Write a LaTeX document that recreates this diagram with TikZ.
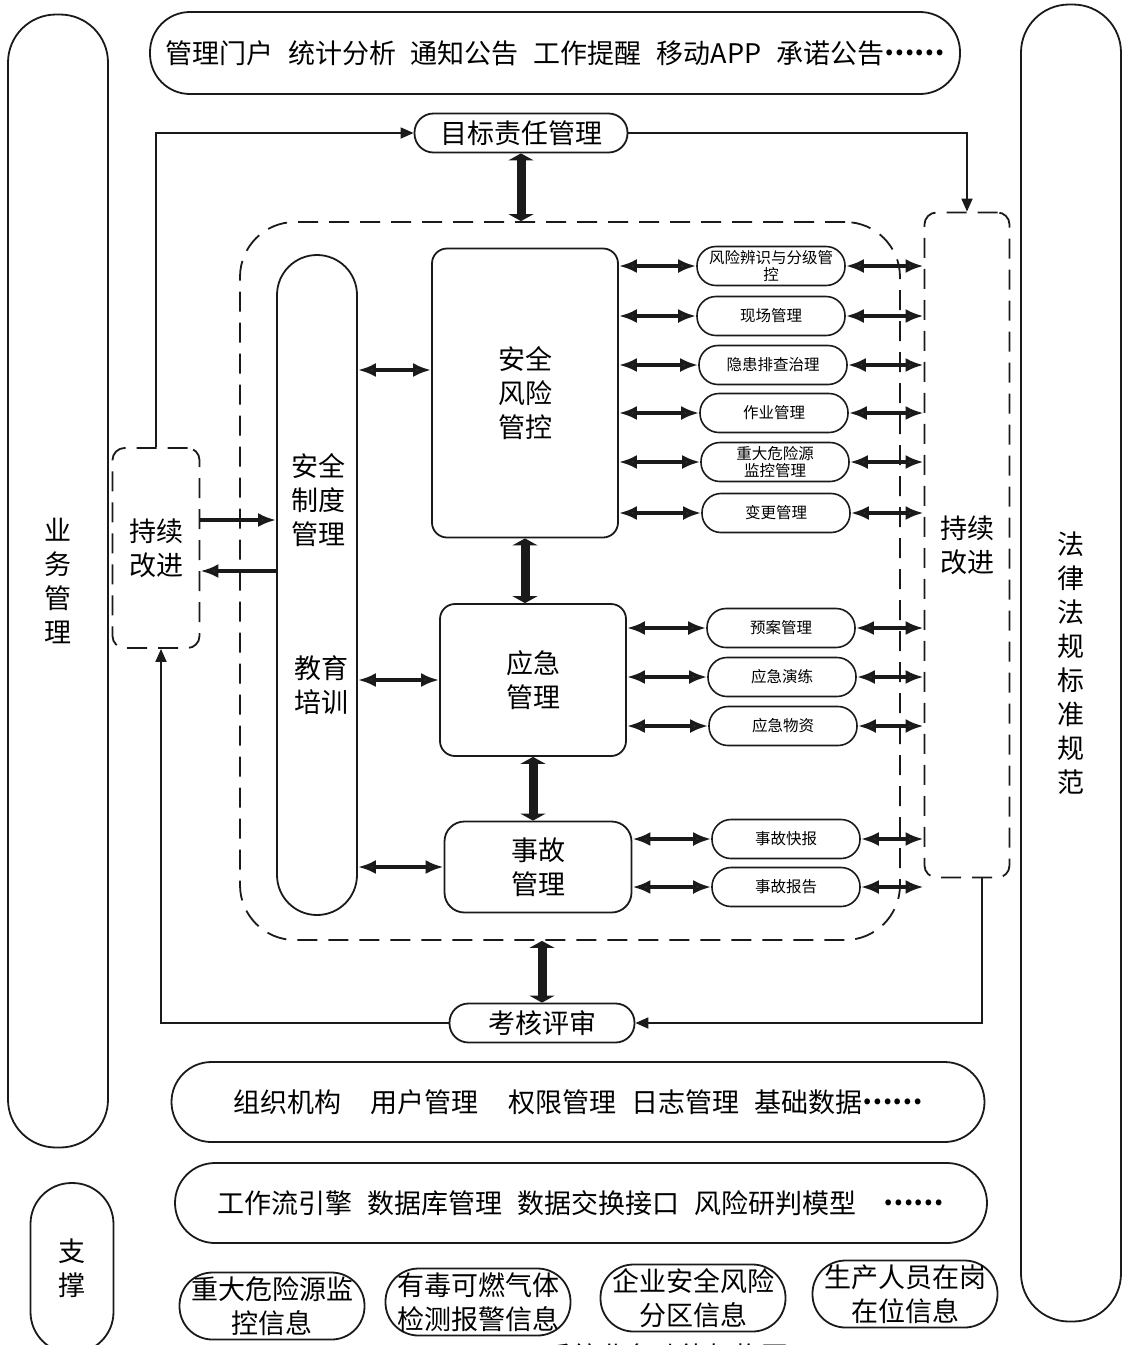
\documentclass[tikz,border=0pt]{standalone}
\usepackage{fontspec}
\setmainfont{Noto Sans CJK SC}
\usetikzlibrary{arrows.meta,positioning}
\definecolor{ARCHInk}{HTML}{1A1A1A}
\definecolor{ARCHTip}{HTML}{3A3A3A}
\newcommand{\archbig}{\fontsize{27}{34}\selectfont}
\newcommand{\archsmall}{\fontsize{15.5}{17.5}\selectfont}
\newcommand{\archgap}{\hspace{0.55em}}
\newcommand{\archdots}{\raisebox{0.3em}{\textbf{……}}}
\tikzset{
  archbar/.style={
    draw=ARCHInk,
    line width=1.8pt,
    rounded corners=40pt,
    inner sep=0pt,
    align=center,
    font=\archbig
  },
  archcore/.style={
    draw=ARCHInk,
    line width=1.8pt,
    rounded corners=15pt,
    inner sep=0pt,
    align=center,
    font=\archbig
  },
  archtag/.style={
    draw=ARCHInk,
    line width=1.8pt,
    rounded corners=19pt,
    inner sep=0pt,
    minimum height=39pt,
    font=\archbig
  },
  archpill/.style={
    draw=ARCHInk,
    line width=1.6pt,
    rounded corners=19pt,
    inner sep=0pt,
    minimum width=148pt,
    minimum height=39pt,
    align=center,
    font=\archsmall
  },
  archdata/.style={
    draw=ARCHInk,
    line width=1.8pt,
    rounded corners=33pt,
    inner sep=0pt,
    minimum width=185pt,
    minimum height=67pt,
    align=center,
    font=\archbig
  },
  archdash/.style={draw=ARCHInk,line width=1.8pt,dash pattern=on 20pt off 11pt},
  archdbl/.style={{Latex[length=18pt,width=14pt,fill=ARCHTip]}-{Latex[length=18pt,width=14pt,fill=ARCHTip]},draw=ARCHInk,line width=3.5pt},
  archthick/.style={-{Latex[length=18pt,width=14pt,fill=ARCHTip]},draw=ARCHInk,line width=3.5pt},
  archfat/.style={{Triangle[length=7pt,width=25pt]}-{Triangle[length=7pt,width=25pt]},draw=ARCHInk,line width=9pt},
  archflow/.style={-{Triangle[length=13pt,width=11pt]},draw=ARCHInk,line width=1.8pt}
}

\begin{document}
\begin{tikzpicture}[x=1pt,y=-1pt]
  \useasboundingbox (0,0) rectangle (1126,1345);
  % side columns
  \node[archbar,minimum width=100pt,minimum height=1133pt,rounded corners=48pt] (biz) at (58,581) {业\\务\\管\\理};
  \node[archbar,minimum width=100pt,minimum height=1317pt,rounded corners=48pt] (law) at (1071,663) {法\\律\\法\\规\\标\\准\\规\\范};
  \node[archbar,minimum width=83pt,minimum height=170pt,rounded corners=41pt] (support) at (72,1268) {支\\撑};
  % top and bottom layers
  \node[archbar,minimum width=810pt,minimum height=82pt] (portal) at (555,53)
    {管理门户\archgap 统计分析\archgap 通知公告\archgap 工作提醒\archgap 移动APP\archgap 承诺公告\archdots};
  \node[archbar,minimum width=813pt,minimum height=80pt] (base) at (578,1102)
    {组织机构\hspace{1.1em}用户管理\hspace{1.1em}权限管理\archgap 日志管理\archgap 基础数据\archdots};
  \node[archbar,minimum width=812pt,minimum height=80pt] (engine) at (581,1203)
    {工作流引擎\archgap 数据库管理\archgap 数据交换接口\archgap 风险研判模型\hspace{1em}\archdots};
  \node[archdata] (hazsrc) at (272,1306) {重大危险源监\\控信息};
  \node[archdata] (gas) at (478,1302) {有毒可燃气体\\检测报警信息};
  \node[archdata] (zone) at (693,1298) {企业安全风险\\分区信息};
  \node[archdata] (staff) at (905,1294) {生产人员在岗\\在位信息};
  \node[font=\archbig] (caption) at (667,1356) {系统业务功能架构图};
  % loop
  \node[archtag,minimum width=213pt] (goal) at (521,133) {目标责任管理};
  \node[archtag,minimum width=185pt] (review) at (542,1023) {考核评审};
  \node[archdash,rounded corners=55pt,minimum width=660pt,minimum height=718pt] (core) at (570,581) {};
  \node[archdash,rounded corners=12pt,minimum width=87pt,minimum height=200pt,align=center,font=\archbig] (ciL) at (156,548) {持续\\改进};
  \node[archdash,rounded corners=12pt,minimum width=85pt,minimum height=665pt,align=center,font=\archbig] (ciR) at (967,545) {持续\\改进};
  % core
  \node[archbar,minimum width=80pt,minimum height=660pt] (rules) at (317,585) {};
  \node[align=center,font=\archbig] (ruletxt) at (318,500) {安全\\制度\\管理};
  \node[align=center,font=\archbig] (edutxt) at (321,685) {教育\\培训};
  \node[archcore,minimum width=186pt,minimum height=289pt] (risk) at (525,393) {安全\\风险\\管控};
  \node[archcore,minimum width=186pt,minimum height=152pt] (emerg) at (533,680) {应急\\管理};
  \node[archcore,rounded corners=20pt,minimum width=187pt,minimum height=91pt] (acc) at (538,867) {事故\\管理};
  \node[archpill] (idrisk) at (771,266) {风险辨识与分级管\\控};
  \node[archpill] (site) at (771,316) {现场管理};
  \node[archpill] (hazard) at (773,365) {隐患排查治理};
  \node[archpill] (work) at (774,413) {作业管理};
  \node[archpill] (major) at (775,462) {重大危险源\\监控管理};
  \node[archpill] (change) at (776,513) {变更管理};
  \node[archpill] (plan) at (781,628) {预案管理};
  \node[archpill] (drill) at (782,677) {应急演练};
  \node[archpill] (supply) at (783,726) {应急物资};
  \node[archpill] (flash) at (786,839) {事故快报};
  \node[archpill] (report) at (786,887) {事故报告};
  \coordinate (riskin) at ([yshift=23pt]risk.west);
  \coordinate (ciout) at ([yshift=28pt]ciL.east);
  \coordinate (ciback) at ([yshift=-23pt]ciL.east);
  \coordinate (ciRfoot) at ([xshift=15pt]ciR.south);
  \coordinate (ciLfoot) at ([xshift=5pt]ciL.south);
  \draw[archfat] (goal.south) -- (goal.south |- core.north);
  \draw[archfat] (review.north |- core.south) -- (review.north);
  \draw[archfat] (risk.south) -- (risk.south |- emerg.north);
  \draw[archfat] (emerg.south) -- (emerg.south |- acc.north);
  \draw[archflow] (ciL.north) |- (goal.west);
  \draw[archflow] (goal.east) -| (ciR.north);
  \draw[archflow] (ciRfoot) |- (review.east);
  \draw[archflow] (review.west) -| (ciLfoot);
  \draw[archthick] (ciout) -- (ciout -| rules.west);
  \draw[archthick] (ciback -| rules.west) -- (ciback);
  \draw[archdbl] (rules.east |- riskin) -- (riskin);
  \draw[archdbl] (rules.east |- emerg.west) -- (emerg.west);
  \draw[archdbl] (rules.east |- acc.west) -- (acc.west);
  \draw[archdbl] (risk.east |- idrisk) -- (idrisk);
  \draw[archdbl] (risk.east |- site) -- (site);
  \draw[archdbl] (risk.east |- hazard) -- (hazard);
  \draw[archdbl] (risk.east |- work) -- (work);
  \draw[archdbl] (risk.east |- major) -- (major);
  \draw[archdbl] (risk.east |- change) -- (change);
  \draw[archdbl] (emerg.east |- plan) -- (plan);
  \draw[archdbl] (emerg.east |- drill) -- (drill);
  \draw[archdbl] (emerg.east |- supply) -- (supply);
  \draw[archdbl] (acc.east |- flash) -- (flash);
  \draw[archdbl] (acc.east |- report) -- (report);
  \draw[archdbl] (idrisk) -- (idrisk -| ciR.west);
  \draw[archdbl] (site) -- (site -| ciR.west);
  \draw[archdbl] (hazard) -- (hazard -| ciR.west);
  \draw[archdbl] (work) -- (work -| ciR.west);
  \draw[archdbl] (major) -- (major -| ciR.west);
  \draw[archdbl] (change) -- (change -| ciR.west);
  \draw[archdbl] (plan) -- (plan -| ciR.west);
  \draw[archdbl] (drill) -- (drill -| ciR.west);
  \draw[archdbl] (supply) -- (supply -| ciR.west);
  \draw[archdbl] (flash) -- (flash -| ciR.west);
  \draw[archdbl] (report) -- (report -| ciR.west);
\end{tikzpicture}
\end{document}
